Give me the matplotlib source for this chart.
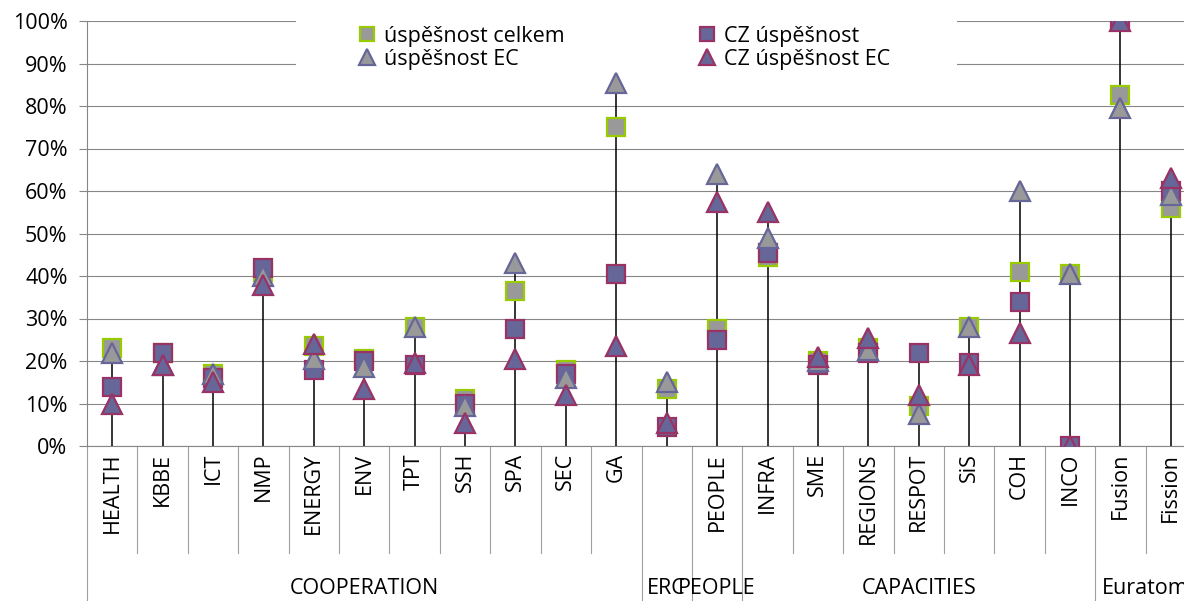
import matplotlib
matplotlib.use('Agg')
import matplotlib.pyplot as plt
import matplotlib.transforms as mtransforms
from matplotlib.patches import Rectangle
import numpy as np

plt.rcParams['font.family'] = ['Open Sans', 'DejaVu Sans']

# categories (ERC has empty label)
cats = ['HEALTH', 'KBBE', 'ICT', 'NMP', 'ENERGY', 'ENV', 'TPT', 'SSH', 'SPA', 'SEC', 'GA',
        '', 'PEOPLE', 'INFRA', 'SME', 'REGIONS', 'RESPOT', 'SiS', 'COH', 'INCO', 'Fusion', 'Fission']

# groups: name, number of categories
groups = ['COOPERATION', 'ERC', 'PEOPLE', 'CAPACITIES', 'Euratom']
group_sizes = [11, 1, 1, 7, 2]

# values in %
uspesnost_celkem = [23, 22, 17, 41, 23.5, 20.5, 28, 11, 36.5, 18, 75,
                    13.5, 27.5, 44.5, 20, 23, 9.5, 28, 41, 40.5, 82.5, 56]
cz_uspesnost = [14, 22, 16, 42, 18, 20, 19, 10, 27.5, 17, 40.5,
                4.5, 25, 45.5, 19, 22, 22, 19.5, 34, 0, 100, 60]
uspesnost_ec = [22, 19, 17, 40, 20.5, 18.5, 28, 9.5, 43, 16, 85.5,
                15, 64, 49, 20, 22.5, 7.5, 28, 60, 40.5, 79.5, 59]
cz_uspesnost_ec = [10, 19, 15, 38, 24, 13.5, 19.5, 5.5, 20.5, 12, 23.5,
                   5.5, 57.5, 55, 21, 25.5, 12, 19, 26.5, 0, 100, 63]

W, H = 1184, 601
fs = 15.5
fig = plt.figure(figsize=(W / 100, H / 100), dpi=100)
ax = fig.add_axes([87 / W, 155 / H, 1109 / W, 425 / H])

x = np.arange(len(cats))
allv = np.array([uspesnost_celkem, cz_uspesnost, uspesnost_ec, cz_uspesnost_ec])
top = allv.max(axis=0)

# drop lines
ax.vlines(x, 0, top, color='black', lw=1.1, zorder=2)

gray = '#999999'
slate = '#666699'
maroon = '#993366'
lime = '#99cc00'

hA, = ax.plot(x, uspesnost_celkem, ls='none', marker='s', ms=12.5, mfc=gray, mec=lime, mew=1.6,
              zorder=3, label='úspěšnost celkem')
hB, = ax.plot(x, cz_uspesnost, ls='none', marker='s', ms=12.5, mfc=slate, mec=maroon, mew=1.6,
              zorder=3, label='CZ úspěšnost')
hC, = ax.plot(x, uspesnost_ec, ls='none', marker='^', ms=14, mfc=gray, mec=slate, mew=1.6,
              zorder=3, label='úspěšnost EC')
hD, = ax.plot(x, cz_uspesnost_ec, ls='none', marker='^', ms=14, mfc=slate, mec=maroon, mew=1.6,
              zorder=3, label='CZ úspěšnost EC')

ax.set_xlim(-0.5, len(cats) - 0.5)
ax.set_ylim(0, 100)
ax.set_yticks(np.arange(0, 101, 10))
ax.set_yticklabels([f'{v}%' for v in range(0, 101, 10)], fontsize=fs)
ax.set_axisbelow(True)
ax.grid(axis='y', color='#868686', lw=0.8)
for s in ['top', 'right']:
    ax.spines[s].set_visible(False)
for s in ['left', 'bottom']:
    ax.spines[s].set_color('#868686')
    ax.spines[s].set_linewidth(0.8)
ax.tick_params(axis='y', length=6, color='#868686', width=0.8, pad=8)

ax.set_xticks(x)
ax.set_xticklabels(cats, rotation=90, fontsize=fs, va='top', ha='center')
ax.tick_params(axis='x', length=0, pad=5)

# separators under the axis
trans = mtransforms.blended_transform_factory(ax.transData, fig.transFigure)
y_axis = 155 / H
bounds = np.cumsum(group_sizes)[:-1] - 0.5
for b in np.arange(0.5, len(cats) - 0.5, 1.0):
    ybot = 0 if b in bounds else (H - 553) / H
    ax.plot([b, b], [y_axis, ybot], color='#a0a0a0', lw=0.8, transform=trans, clip_on=False)
ax.plot([-0.5, -0.5], [y_axis, 0], color='#a0a0a0', lw=0.8, transform=trans, clip_on=False)

start = 0
for g, n in zip(groups, group_sizes):
    cx = start + (n - 1) / 2
    ax.text(cx, (H - 589) / H, g, ha='center', va='center', fontsize=fs,
            transform=trans, clip_on=False)
    start += n

# white legend background hiding gridlines
ax.add_patch(Rectangle((296 / W, (H - 75) / H), (957 - 296) / W, 75 / H, transform=fig.transFigure,
                       facecolor='white', edgecolor='none', zorder=1))

leg = ax.legend([hA, hC, hB, hD], [h.get_label() for h in [hA, hC, hB, hD]],
                loc='upper left', bbox_to_anchor=(358 / W, (H - 26) / H), bbox_transform=fig.transFigure,
                ncol=2, frameon=False, fontsize=fs, handlelength=0.8, handletextpad=0.4,
                columnspacing=6.2, labelspacing=0.07, borderpad=0, borderaxespad=0, markerscale=0.8)

fig.savefig('out.png', dpi=100)
